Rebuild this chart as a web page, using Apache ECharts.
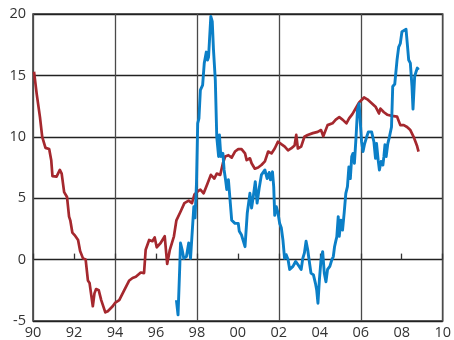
<!DOCTYPE html>
<html>
<head>
<meta charset="utf-8">
<script src="https://cdn.jsdelivr.net/npm/echarts@6/dist/echarts.min.js"></script>
<style>
  html, body { margin: 0; padding: 0; background: #fff; }
  #chart { width: 454px; height: 340px; }
</style>
</head>
<body>
<div id="chart"></div>
<script>
// Tick labels
const xTickLabels = ['90', '92', '94', '96', '98', '00', '02', '04', '06', '08', '10'];
const yTickValues = [-5, 0, 5, 10, 15, 20];

// Red series: [year, value]
const seriesRed = [
  [1990.05, 15.3], [1990.18, 13.5], [1990.34, 11.6], [1990.45, 10.0], [1990.53, 9.9],
  [1990.61, 9.1], [1990.79, 9.0], [1990.89, 8.1], [1990.95, 6.8], [1991.15, 6.75],
  [1991.31, 7.3], [1991.40, 7.0], [1991.52, 5.5], [1991.66, 5.1], [1991.76, 3.5],
  [1991.82, 3.2], [1991.92, 2.2], [1992.03, 2.0], [1992.20, 1.6], [1992.30, 0.7],
  [1992.44, 0.1], [1992.57, 0.0], [1992.68, -1.7], [1992.76, -1.9], [1992.92, -3.8],
  [1993.00, -2.75], [1993.08, -2.4], [1993.21, -2.5], [1993.33, -3.3], [1993.53, -4.3],
  [1993.65, -4.2], [1993.89, -3.8], [1994.02, -3.5], [1994.21, -3.3], [1994.45, -2.5],
  [1994.70, -1.7], [1994.86, -1.5], [1995.02, -1.4], [1995.26, -1.05], [1995.42, -1.1],
  [1995.50, 0.8], [1995.67, 1.6], [1995.83, 1.5], [1995.94, 1.8], [1996.04, 1.0],
  [1996.23, 1.35], [1996.43, 1.9], [1996.55, -0.35], [1996.68, 0.8], [1996.88, 1.9],
  [1997.00, 3.2], [1997.20, 3.9], [1997.39, 4.6], [1997.60, 4.8], [1997.76, 4.6],
  [1997.88, 5.3], [1998.04, 5.55], [1998.17, 5.7], [1998.33, 5.4], [1998.52, 6.2],
  [1998.68, 6.9], [1998.85, 6.6], [1998.97, 7.0], [1999.14, 6.9], [1999.27, 7.85],
  [1999.38, 8.4], [1999.54, 8.5], [1999.70, 8.3], [1999.86, 8.8], [2000.02, 9.0],
  [2000.18, 9.0], [2000.35, 8.65], [2000.43, 8.1], [2000.59, 8.25], [2000.67, 7.85],
  [2000.83, 7.4], [2000.99, 7.5], [2001.15, 7.7], [2001.32, 8.0], [2001.48, 8.8],
  [2001.64, 8.65], [2001.80, 9.05], [2001.96, 9.6], [2002.12, 9.4], [2002.29, 9.2],
  [2002.45, 8.9], [2002.60, 9.05], [2002.77, 9.3], [2002.85, 10.15], [2002.93, 9.05],
  [2003.09, 9.2], [2003.25, 10.0], [2003.41, 10.15], [2003.66, 10.3], [2003.90, 10.4],
  [2004.06, 10.55], [2004.17, 10.05], [2004.38, 10.95], [2004.62, 11.1], [2004.78, 11.4],
  [2004.95, 11.6], [2005.11, 11.4], [2005.30, 11.1], [2005.43, 11.5], [2005.59, 11.85],
  [2005.75, 12.3], [2005.92, 12.8], [2006.04, 13.0], [2006.16, 13.2], [2006.32, 13.05],
  [2006.56, 12.7], [2006.72, 12.45], [2006.89, 11.9], [2006.96, 12.3], [2007.13, 12.0],
  [2007.29, 11.8], [2007.53, 11.7], [2007.77, 11.65], [2007.85, 11.8], [2007.93, 10.95],
  [2008.10, 10.95], [2008.26, 10.8], [2008.42, 10.55], [2008.58, 10.0], [2008.74, 9.3],
  [2008.82, 8.8]
];

// Blue series: [year, value]
const seriesBlue = [
  [1997.00, -3.3], [1997.08, -4.5], [1997.17, -0.3], [1997.20, 1.35], [1997.28, 0.8],
  [1997.36, 0.1], [1997.49, 0.25], [1997.60, 1.35], [1997.69, 0.1], [1997.76, 0.1],
  [1997.85, 4.3], [1997.91, 3.4], [1997.98, 6.2], [1998.04, 11.1], [1998.10, 11.5],
  [1998.17, 13.8], [1998.28, 14.2], [1998.36, 16.0], [1998.46, 16.9], [1998.52, 16.25],
  [1998.57, 16.5], [1998.68, 19.8], [1998.75, 19.4], [1998.81, 17.1], [1998.90, 14.6],
  [1998.97, 10.0], [1999.06, 8.4], [1999.10, 10.15], [1999.17, 8.4], [1999.27, 8.65],
  [1999.33, 7.3], [1999.40, 6.5], [1999.46, 5.7], [1999.54, 6.5], [1999.62, 4.85],
  [1999.70, 3.2], [1999.86, 2.95], [2000.02, 2.95], [2000.07, 2.3], [2000.18, 2.0],
  [2000.27, 2.0], [2000.35, 1.05], [2000.46, 3.8], [2000.59, 5.4], [2000.67, 4.2],
  [2000.75, 5.1], [2000.85, 6.35], [2000.94, 4.6], [2001.04, 5.8], [2001.15, 6.9],
  [2001.32, 7.3], [2001.43, 6.6], [2001.53, 7.1], [2001.59, 6.5], [2001.69, 7.15],
  [2001.75, 5.95], [2001.80, 3.6], [2001.88, 4.3], [2001.96, 3.8], [2002.04, 2.95],
  [2002.12, 2.6], [2002.20, 1.6], [2002.28, 0.1], [2002.36, 0.4], [2002.45, 0.0],
  [2002.53, -0.8], [2002.69, -0.55], [2002.82, -0.15], [2002.93, -0.4], [2003.01, -0.3],
  [2003.09, -0.8], [2003.17, 0.1], [2003.25, 0.55], [2003.33, 1.5], [2003.41, 0.8],
  [2003.50, -0.3], [2003.57, -1.1], [2003.69, -1.25], [2003.79, -1.95], [2003.85, -2.5],
  [2003.91, -3.55], [2003.98, -1.65], [2004.06, 0.0], [2004.14, 0.65], [2004.22, -1.1],
  [2004.30, -1.8], [2004.38, -0.8], [2004.49, -0.55], [2004.59, 0.0], [2004.66, 0.25],
  [2004.72, 1.05], [2004.78, 1.5], [2004.83, 1.85], [2004.90, 3.5], [2004.95, 1.9],
  [2005.03, 3.2], [2005.11, 2.4], [2005.19, 3.8], [2005.27, 5.4], [2005.35, 5.95],
  [2005.42, 7.55], [2005.49, 6.6], [2005.56, 8.4], [2005.62, 8.65], [2005.69, 7.85],
  [2005.77, 10.0], [2005.84, 12.2], [2005.92, 12.7], [2005.98, 11.1], [2006.04, 9.6],
  [2006.11, 8.8], [2006.19, 9.45], [2006.29, 10.0], [2006.37, 10.4], [2006.45, 10.3],
  [2006.53, 10.4], [2006.64, 9.6], [2006.72, 8.25], [2006.77, 9.45], [2006.85, 8.1],
  [2006.91, 7.3], [2006.99, 8.0], [2007.08, 7.7], [2007.13, 8.4], [2007.18, 9.35],
  [2007.24, 8.4], [2007.32, 9.45], [2007.40, 10.0], [2007.50, 10.8], [2007.56, 14.1],
  [2007.66, 14.3], [2007.72, 14.35], [2007.77, 16.25], [2007.85, 17.3], [2007.93, 17.6],
  [2008.01, 18.55], [2008.10, 18.7], [2008.21, 18.75], [2008.27, 17.6], [2008.34, 16.25],
  [2008.42, 16.0], [2008.50, 14.1], [2008.55, 12.25], [2008.63, 14.9], [2008.70, 15.3],
  [2008.76, 15.6], [2008.82, 15.45]
];

const chart = echarts.init(document.getElementById('chart'), null, { renderer: 'canvas' });

const labelFont = { fontFamily: 'Open Sans', fontSize: 14.5, color: '#333' };

chart.setOption({
  animation: false,
  backgroundColor: '#fff',
  grid: {
    left: 33, top: 14, width: 413, height: 307,
    show: true, borderColor: '#333', borderWidth: 1.5, backgroundColor: 'transparent'
  },
  xAxis: [
    {
      type: 'value', min: 1990, max: 2010, interval: 2,
      axisLine: { show: false },
      axisTick: { show: true, inside: true, length: 6, lineStyle: { color: '#333', width: 1.3 } },
      splitLine: { show: false },
      axisLabel: {
        ...labelFont, margin: 4,
        formatter: v => xTickLabels[Math.round((v - 1990) / 2)] ?? ''
      }
    },
    {
      // vertical rules every four years
      type: 'value', min: 1990, max: 2010, interval: 4, position: 'bottom',
      axisLine: { show: false }, axisTick: { show: false }, axisLabel: { show: false },
      splitLine: { show: true, lineStyle: { color: '#4a4a4a', width: 1.3 } }
    }
  ],
  yAxis: {
    type: 'value', min: -5, max: 20, interval: 5,
    axisLine: { show: false }, axisTick: { show: false },
    axisLabel: {
      ...labelFont, margin: 7,
      formatter: v => (yTickValues.includes(v) ? String(v) : '')
    },
    splitLine: { show: true, lineStyle: { color: '#222', width: 1.4 } }
  },
  series: [
    {
      type: 'line', xAxisIndex: 0, data: seriesRed, showSymbol: false,
      lineStyle: { color: '#a5282e', width: 2.7, join: 'round' }, z: 3
    },
    {
      type: 'line', xAxisIndex: 0, data: seriesBlue, showSymbol: false,
      lineStyle: { color: '#0b7fc7', width: 2.9, join: 'round' }, z: 4
    }
  ]
});
</script>
</body>
</html>
